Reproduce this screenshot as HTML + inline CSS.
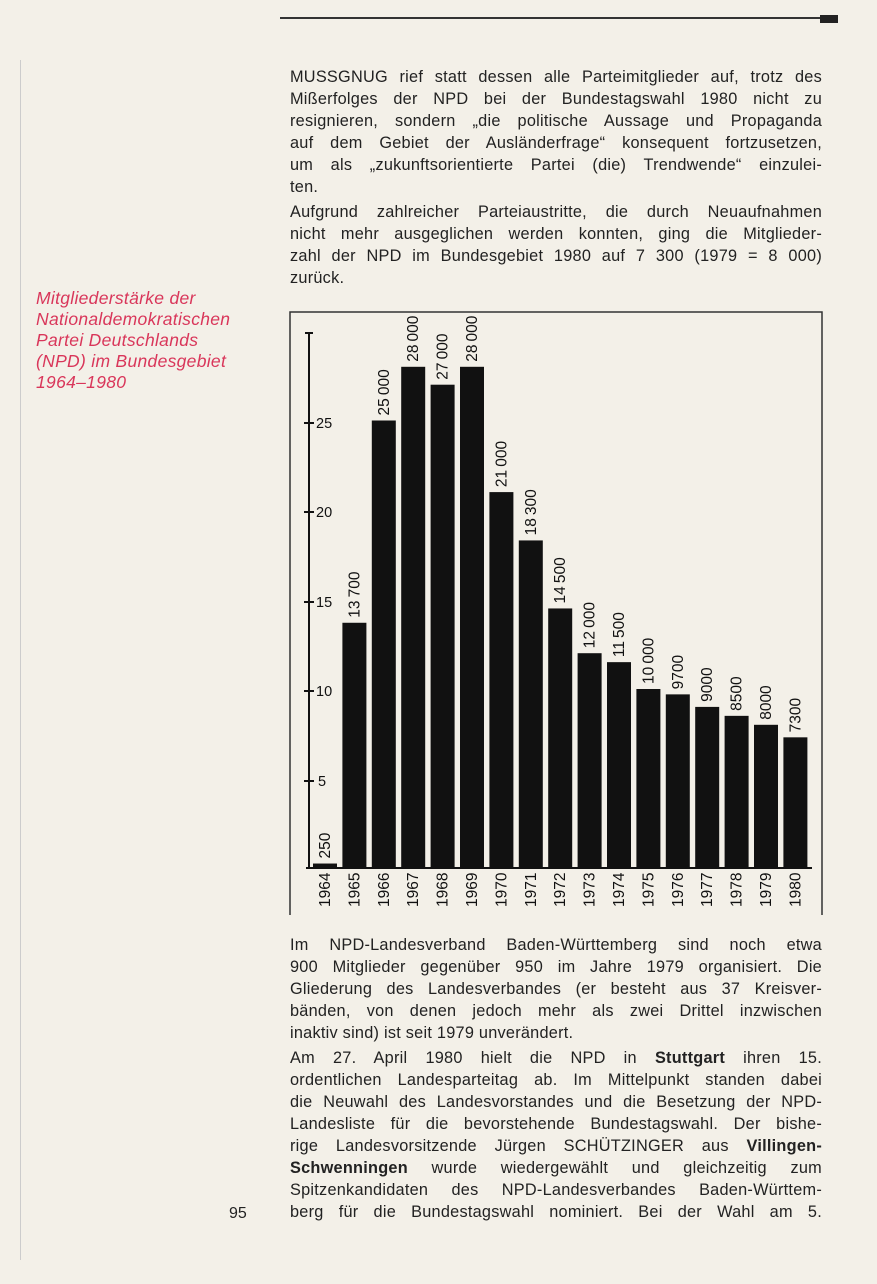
<!DOCTYPE html>
<html><head><meta charset="utf-8"><style>
body{margin:0;width:877px;height:1284px;background:#f3f0e8;position:relative;overflow:hidden;font-family:"Liberation Sans",sans-serif;color:#222}
.l{position:absolute;left:290px;width:532px;font-size:16.3px;line-height:21px;text-align:justify;text-align-last:justify;white-space:nowrap;letter-spacing:0.25px}
.e{text-align-last:left}
.cap{position:absolute;left:36px;top:288px;font-size:17.5px;line-height:21px;font-style:italic;color:#d9365a;letter-spacing:0.3px}
</style></head><body>
<div style="position:absolute;left:280px;top:17px;width:558px;height:2px;background:#333"></div>
<div style="position:absolute;left:820px;top:15px;width:18px;height:8px;background:#222"></div>
<div style="position:absolute;left:20px;top:60px;width:1px;height:1200px;background:#ccc"></div>
<div class="l" style="top:67px">MUSSGNUG rief statt dessen alle Parteimitglieder auf, trotz des</div>
<div class="l" style="top:89px">Mißerfolges der NPD bei der Bundestagswahl 1980 nicht zu</div>
<div class="l" style="top:111px">resignieren, sondern „die politische Aussage und Propaganda</div>
<div class="l" style="top:133px">auf dem Gebiet der Ausländerfrage“ konsequent fortzusetzen,</div>
<div class="l" style="top:155px">um als „zukunftsorientierte Partei (die) Trendwende“ einzulei-</div>
<div class="l e" style="top:177px">ten.</div>
<div class="l" style="top:202px">Aufgrund zahlreicher Parteiaustritte, die durch Neuaufnahmen</div>
<div class="l" style="top:224px">nicht mehr ausgeglichen werden konnten, ging die Mitglieder-</div>
<div class="l" style="top:246px">zahl der NPD im Bundesgebiet 1980 auf 7 300 (1979 = 8 000)</div>
<div class="l e" style="top:268px">zurück.</div>
<div class="cap">Mitgliederstärke der<br>Nationaldemokratischen<br>Partei Deutschlands<br>(NPD) im Bundesgebiet<br>1964–1980</div>
<svg style="position:absolute;left:0;top:0" width="877" height="1284">
<g stroke="#333" fill="none" stroke-width="1.5"><path d="M290 915 V312 H822 V915"/></g>
<g stroke="#111" stroke-width="2"><line x1="309" y1="333" x2="309" y2="868"/><line x1="305" y1="333" x2="313" y2="333"/><line x1="306" y1="868" x2="812" y2="868"/>
<line x1="304" y1="423" x2="314" y2="423"/><line x1="304" y1="512" x2="314" y2="512"/><line x1="304" y1="602" x2="314" y2="602"/><line x1="304" y1="691" x2="314" y2="691"/><line x1="304" y1="781" x2="314" y2="781"/></g>
<g font-size="14.5" fill="#111"><text x="316" y="428">25</text><text x="316" y="517">20</text><text x="316" y="607">15</text><text x="316" y="696">10</text><text x="318" y="786">5</text></g>
<g id="bars" fill="#111" font-size="15.5"></g>
</svg>
<script>
var d=[250,13700,25000,28000,27000,28000,21000,18300,14500,12000,11500,10000,9700,9000,8500,8000,7300];
var s='';d.forEach(function(v,i){var x=313+i*29.4,y=868-v/1000*17.9,c=x+12;
s+='<rect x="'+x+'" y="'+y+'" width="24" height="'+(868-y)+'"/>';
var l=v>=10000?String(v).slice(0,-3)+'\u2009'+String(v).slice(-3):String(v);
s+='<text transform="translate('+(c+5)+','+(y-5)+') rotate(-90)">'+l+'</text>';
s+='<text transform="translate('+(c+5)+',907) rotate(-90)">'+(1964+i)+'</text>';});
document.getElementById('bars').innerHTML=s;
</script>
<div class="l" style="top:935px">Im NPD-Landesverband Baden-Württemberg sind noch etwa</div>
<div class="l" style="top:957px">900 Mitglieder gegenüber 950 im Jahre 1979 organisiert. Die</div>
<div class="l" style="top:979px">Gliederung des Landesverbandes (er besteht aus 37 Kreisver-</div>
<div class="l" style="top:1001px">bänden, von denen jedoch mehr als zwei Drittel inzwischen</div>
<div class="l e" style="top:1023px">inaktiv sind) ist seit 1979 unverändert.</div>
<div class="l" style="top:1048px">Am 27. April 1980 hielt die NPD in <b>Stuttgart</b> ihren 15.</div>
<div class="l" style="top:1070px">ordentlichen Landesparteitag ab. Im Mittelpunkt standen dabei</div>
<div class="l" style="top:1092px">die Neuwahl des Landesvorstandes und die Besetzung der NPD-</div>
<div class="l" style="top:1114px">Landesliste für die bevorstehende Bundestagswahl. Der bishe-</div>
<div class="l" style="top:1136px">rige Landesvorsitzende Jürgen SCHÜTZINGER aus <b>Villingen-</b></div>
<div class="l" style="top:1158px"><b>Schwenningen</b> wurde wiedergewählt und gleichzeitig zum</div>
<div class="l" style="top:1180px">Spitzenkandidaten des NPD-Landesverbandes Baden-Württem-</div>
<div class="l" style="top:1202px">berg für die Bundestagswahl nominiert. Bei der Wahl am 5.</div>
<div style="position:absolute;left:229px;top:1205px;font-size:16px">95</div>
</body></html>
